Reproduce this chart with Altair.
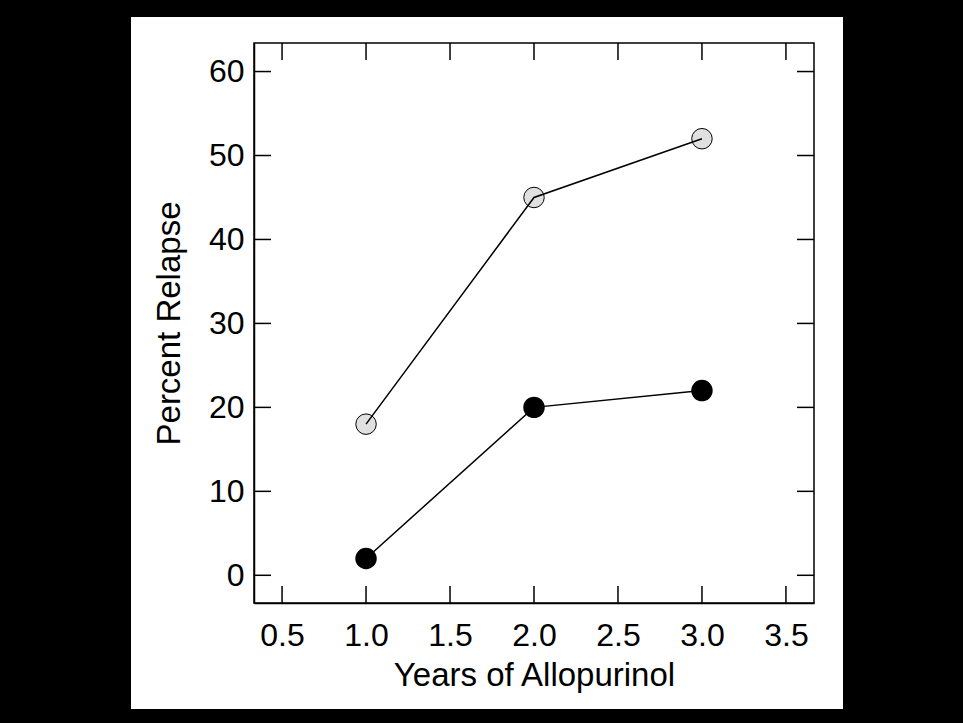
import altair as alt
import pandas as pd

# Observed relapse rates by duration of allopurinol therapy
years = [1.0, 2.0, 3.0]
relapse_open = [18, 45, 52]
relapse_filled = [2, 20, 22]

# Tick positions
x_ticks = [0.5, 1.0, 1.5, 2.0, 2.5, 3.0, 3.5]
y_ticks = [0, 10, 20, 30, 40, 50, 60]

W, H = 560, 560
TICK = 17
FONT = "Liberation Sans"
PAD = {"left": 254, "top": 43, "right": 149, "bottom": 120}

df = pd.DataFrame({
    "years": years * 2,
    "relapse": relapse_open + relapse_filled,
    "group": ["open"] * 3 + ["filled"] * 3,
})
df_open = df[df.group == "open"]
df_filled = df[df.group == "filled"]
xt = pd.DataFrame({"t": x_ticks})
yt = pd.DataFrame({"t": y_ticks})

# black surround of the white page: left, right, top, bottom strips (pixel offsets)
border = pd.DataFrame({
    "x0": [-254, 589, -254, -254],
    "x1": [-123, 709, 709, 709],
    "y0": [-43, -43, -43, 666],
    "y1": [680, 680, -26, 680],
})
one = pd.DataFrame({"a": [0]})

xscale = alt.Scale(domain=[0.333, 3.667], nice=False, zero=False)
yscale = alt.Scale(domain=[-3.3, 63.4], nice=False, zero=False)

x_enc = alt.X("years:Q", scale=xscale,
              axis=alt.Axis(values=x_ticks, format=".1f", title="Years of Allopurinol",
                            titlePadding=8))
y_enc = alt.Y("relapse:Q", scale=yscale,
              axis=alt.Axis(values=y_ticks, format="d", title="Percent Relapse",
                            titlePadding=22))

frame = alt.Chart(one).mark_rect(filled=False, stroke="black", strokeWidth=1.5).encode(
    x=alt.value(0), x2=alt.value(W), y=alt.value(0), y2=alt.value(H)
)

surround = alt.Chart(border).mark_rect(color="black").encode(
    x=alt.X("x0:Q", scale=None), x2="x1:Q",
    y=alt.Y("y0:Q", scale=None), y2="y1:Q",
)

tick_style = dict(color="black", strokeWidth=1.5)
xb = alt.Chart(xt).mark_rule(**tick_style).encode(
    x=alt.X("t:Q", scale=xscale), y=alt.value(H), y2=alt.value(H - TICK))
xtp = alt.Chart(xt).mark_rule(**tick_style).encode(
    x=alt.X("t:Q", scale=xscale), y=alt.value(0), y2=alt.value(TICK))
yl = alt.Chart(yt).mark_rule(**tick_style).encode(
    y=alt.Y("t:Q", scale=yscale), x=alt.value(0), x2=alt.value(TICK))
yr = alt.Chart(yt).mark_rule(**tick_style).encode(
    y=alt.Y("t:Q", scale=yscale), x=alt.value(W - TICK), x2=alt.value(W))

open_pts = alt.Chart(df_open).mark_point(
    shape="circle", filled=True, fill="#e0e0e0", stroke="black", strokeWidth=1,
    size=420, opacity=1
).encode(x=x_enc, y=y_enc)

lines = alt.Chart(df).mark_line(color="black", strokeWidth=1.5).encode(
    x=alt.X("years:Q", scale=xscale),
    y=alt.Y("relapse:Q", scale=yscale),
    detail="group:N",
)

filled_pts = alt.Chart(df_filled).mark_point(
    shape="circle", filled=True, color="black", size=460, opacity=1
).encode(x=alt.X("years:Q", scale=xscale),
         y=alt.Y("relapse:Q", scale=yscale))

chart = alt.layer(
    open_pts, lines, filled_pts, xb, xtp, yl, yr, frame, surround
).properties(
    width=W, height=H,
    background="white",
    padding=PAD,
    autosize=alt.AutoSizeParams(type="none"),
).configure_view(
    stroke=None
).configure_axis(
    ticks=False, grid=False,
    domainColor="black", domainWidth=1.5,
    labelFont=FONT, labelFontSize=32, labelColor="black", labelPadding=10,
    titleFont=FONT, titleFontSize=33, titleColor="black", titleFontWeight="normal",
).configure_axisX(
    labelPadding=17
)

chart.save("out.html", embed_options={"renderer": "svg", "actions": False})
